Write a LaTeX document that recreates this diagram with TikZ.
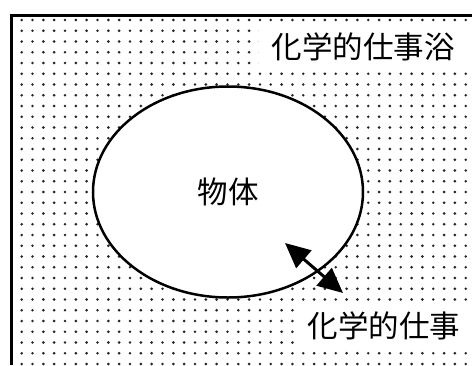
\documentclass[tikz,border=0pt]{standalone}
\usepackage{fontspec}
\newfontfamily\jpfont{Noto Sans CJK JP}
\usetikzlibrary{arrows.meta,shapes.geometric}
\tikzset{
  dotc/.style={fill=black!85},
  bigtext/.style={font=\jpfont\fontsize{30.5}{35}\selectfont},
  labelbox/.style={bigtext, fill=white, inner sep=0pt},
  twohead/.style={line width=3pt, {Triangle[length=25pt,width=23pt]}-{Triangle[length=25pt,width=23pt]}},
}
\begin{document}
\begin{tikzpicture}[x=1pt,y=-1pt]
\useasboundingbox (0,0) rectangle (472,365);
\fill[white] (0,0) rectangle (472,365);
% dot pattern
\foreach \i in {0,...,41}{
  \foreach \j in {0,...,32}{
    \fill[dotc] ({21.7+10.83*\i},{20+10.75*\j}) circle (1.45pt);
  }
}
% frame
\draw[line width=3pt] (472,15) -- (11,15) -- (11,365);
% body
\node[ellipse, draw, line width=2.5pt, fill=white, minimum width=270pt, minimum height=211pt, inner sep=0pt, bigtext] (body) at (228,192) {物体};
% labels
\node[labelbox, minimum width=208pt, minimum height=44pt] (bath) at (363,47) {化学的仕事浴};
\node[labelbox, minimum width=166pt, minimum height=48pt] (work) at (384,326) {化学的仕事};
% arrow
\coordinate (p) at (285,243);
\coordinate (q) at (343,293);
\draw[twohead] (p) -- (q);
\end{tikzpicture}
\end{document}
